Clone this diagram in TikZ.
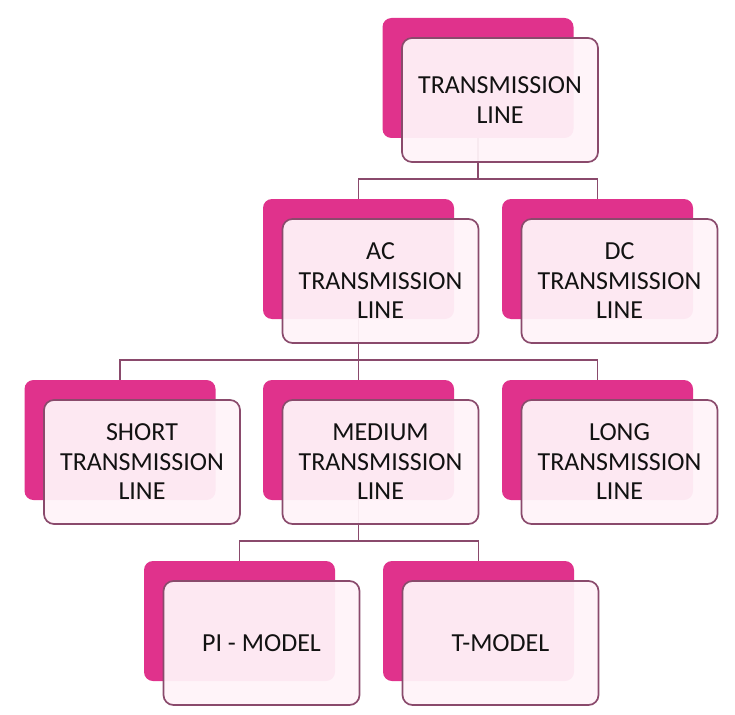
\documentclass[tikz,border=0pt]{standalone}
\usepackage{fontspec}
\setmainfont{Carlito}
\definecolor{backpink}{HTML}{E0328C}
\definecolor{frontpink}{HTML}{FFF4F9}
\definecolor{edgecol}{HTML}{8A4A6C}
\definecolor{txtcol}{HTML}{121212}
\tikzset{
  backbox/.style={rectangle, rounded corners=9pt, fill=backpink, draw=none,
    minimum width=191pt, minimum height=120pt, inner sep=0pt},
  frontbox/.style={rectangle, rounded corners=10pt, fill=frontpink, fill opacity=0.94,
    text opacity=1, draw=edgecol, line width=1.7pt, minimum width=196pt,
    minimum height=124pt, inner sep=0pt, align=center, text=txtcol,
    font=\fontsize{26}{29.5}\selectfont},
  conn/.style={draw=edgecol, line width=1.6pt}
}
\begin{document}
\begin{tikzpicture}[x=1pt,y=-1pt]
\useasboundingbox[fill=white] (0,0) rectangle (735,714);
% back boxes
\node[backbox] (topb) at (478,78) {};
\node[backbox] (acb) at (358.5,259) {};
\node[backbox] (dcb) at (597.5,259) {};
\node[backbox] (shb) at (120,440) {};
\node[backbox] (meb) at (358.5,440) {};
\node[backbox] (lob) at (597.5,440) {};
\node[backbox] (pib) at (239.5,621) {};
\node[backbox] (tmb) at (478.5,621) {};
% connectors
\draw[conn] (topb.south) |- ([yshift=20pt]acb.north) -- (acb.north);
\draw[conn] (topb.south) |- ([yshift=20pt]dcb.north) -- (dcb.north);
\draw[conn] (acb.south) |- ([yshift=20pt]shb.north) -- (shb.north);
\draw[conn] (acb.south) -- (meb.north);
\draw[conn] (acb.south) |- ([yshift=20pt]lob.north) -- (lob.north);
\draw[conn] (meb.south) |- ([yshift=20pt]pib.north) -- (pib.north);
\draw[conn] (meb.south) |- ([yshift=20pt]tmb.north) -- (tmb.north);
% front boxes
\node[frontbox] (top) at (500,100) {TRANSMISSION\\LINE};
\node[frontbox] (ac) at (380.5,281) {AC\\TRANSMISSION\\LINE};
\node[frontbox] (dc) at (619.5,281) {DC\\TRANSMISSION\\LINE};
\node[frontbox] (sh) at (142,462) {SHORT\\TRANSMISSION\\LINE};
\node[frontbox] (me) at (380.5,462) {MEDIUM\\TRANSMISSION\\LINE};
\node[frontbox] (lo) at (619.5,462) {LONG\\TRANSMISSION\\LINE};
\node[frontbox] (pi) at (261.5,643) {PI - MODEL};
\node[frontbox] (tm) at (500.5,643) {T-MODEL};
\end{tikzpicture}
\end{document}
